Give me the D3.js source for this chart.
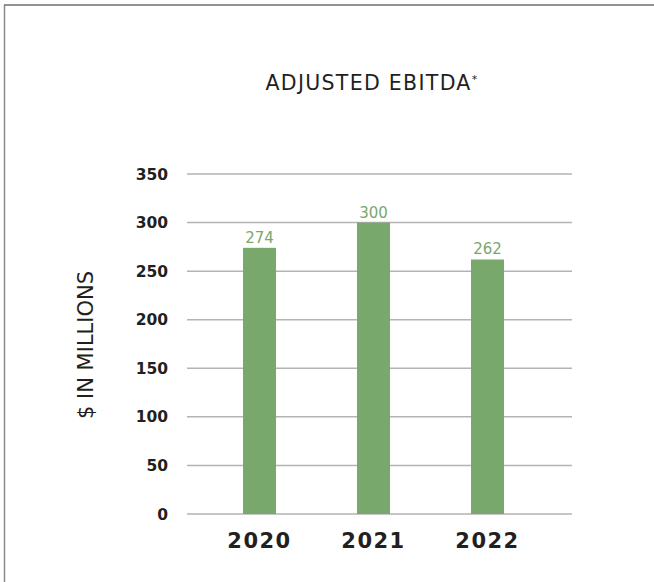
<!doctype html>
<meta charset="utf-8">

<style>
    body {
        margin: 0;
        background: #fff;
    }
    text {
        font-family: "DejaVu Sans", sans-serif;
        fill: #231f20;
    }
</style>

<div id="chart"></div>

<script src="https://d3js.org/d3.v7.min.js"></script>

<script>

let years = ["2020", "2021", "2022"]
let ebitda = [274, 300, 262]
let yTicks = [0, 50, 100, 150, 200, 250, 300, 350]

let width = 654
let height = 582

let svg = d3
    .select("#chart")
    .append("svg")
    .attr("width", width)
    .attr("height", height);

// frame (only top and left edges show in the original)
svg.append("line")
    .attr("x1", 4).attr("y1", 5).attr("x2", width).attr("y2", 5)
    .style("stroke", "#6d6d6d").style("stroke-width", 1.5);
svg.append("line")
    .attr("x1", 4.5).attr("y1", 5).attr("x2", 4.5).attr("y2", height)
    .style("stroke", "#8a8a8a").style("stroke-width", 1.5);

let gridLeft = 187, gridRight = 572

let yScale = d3.scaleLinear().domain([0, 350]).range([514, 174])
let xScale = d3.scalePoint().domain(years).range([259.5, 487.5])
let barWidth = 33

// gridlines
svg.selectAll(".grid")
    .data(yTicks)
    .join("line")
    .attr("class", "grid")
    .attr("x1", gridLeft)
    .attr("x2", gridRight)
    .attr("y1", d => yScale(d))
    .attr("y2", d => yScale(d))
    .style("stroke", "#b3b3b3")
    .style("stroke-width", 1.5);

// y tick labels
svg.selectAll(".ytick")
    .data(yTicks)
    .join("text")
    .attr("class", "ytick")
    .attr("x", 168)
    .attr("y", d => yScale(d))
    .attr("dy", "0.36em")
    .style("text-anchor", "end")
    .style("font-size", "15.5px")
    .style("font-weight", "bold")
    .text(d => d);

// bars
svg.selectAll("rect.bar")
    .data(ebitda)
    .join("rect")
    .attr("class", "bar")
    .attr("x", (d, i) => xScale(years[i]) - barWidth / 2)
    .attr("width", barWidth)
    .attr("y", d => yScale(d))
    .attr("height", d => yScale(0) - yScale(d))
    .attr("fill", "#79a86c");

// value labels
svg.selectAll(".val")
    .data(ebitda)
    .join("text")
    .attr("class", "val")
    .attr("x", (d, i) => xScale(years[i]))
    .attr("y", d => yScale(d) - 5)
    .style("text-anchor", "middle")
    .style("font-size", "15px")
    .style("fill", "#79a86c")
    .text(d => d);

// year labels
svg.selectAll(".year")
    .data(years)
    .join("text")
    .attr("class", "year")
    .attr("x", d => xScale(d))
    .attr("y", 548)
    .style("text-anchor", "middle")
    .style("font-size", "21px")
    .style("font-weight", "bold")
    .style("letter-spacing", "1.5px")
    .text(d => d);

// title
let title = svg.append("text")
    .attr("x", 372)
    .attr("y", 90)
    .style("text-anchor", "middle")
    .style("font-size", "20.5px")
    .style("letter-spacing", "1.3px")
    .text("ADJUSTED EBITDA");
title.append("tspan")
    .attr("dy", -7)
    .style("font-size", "11px")
    .text("*");

// y axis title
svg.append("text")
    .attr("transform", "translate(93,345) rotate(-90)")
    .style("text-anchor", "middle")
    .style("font-size", "21px")
    .text("$ IN MILLIONS");

</script>
